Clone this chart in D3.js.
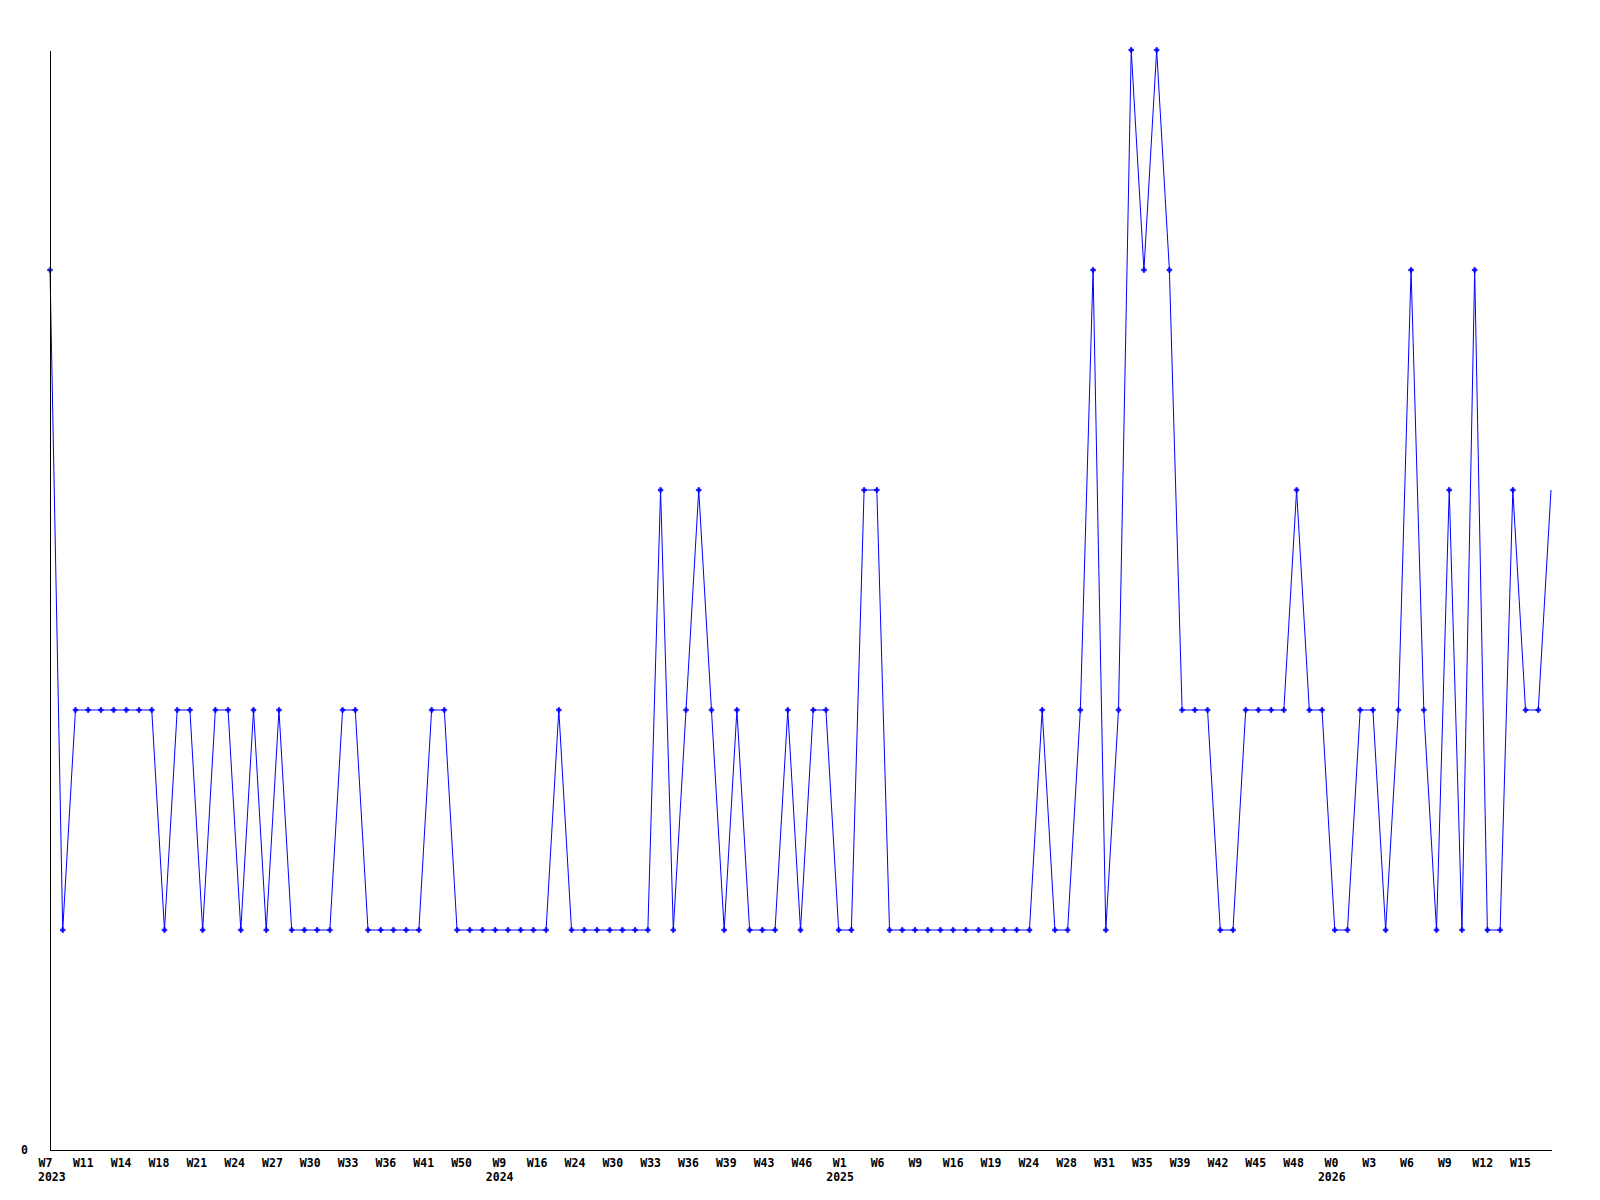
<!DOCTYPE html>
<html>
<head>
<meta charset="utf-8">
<script src="https://cdn.jsdelivr.net/npm/d3@7"></script>
<style>
  html, body { margin: 0; padding: 0; background: #fff; }
  svg { display: block; }
  text { font-family: "DejaVu Sans Mono", "Liberation Mono", monospace; font-weight: bold; font-size: 11.5px; fill: #000; }
</style>
</head>
<body>
<svg id="chart" width="1600" height="1200"></svg>
<script>
// ---- data ----
const values = [
  4, 1, 2, 2, 2, 2, 2, 2, 2, 1,
  2, 2, 1, 2, 2, 1, 2, 1, 2, 1,
  1, 1, 1, 2, 2, 1, 1, 1, 1, 1,
  2, 2, 1, 1, 1, 1, 1, 1, 1, 1,
  2, 1, 1, 1, 1, 1, 1, 1, 3, 1,
  2, 3, 2, 1, 2, 1, 1, 1, 2, 1,
  2, 2, 1, 1, 3, 3, 1, 1, 1, 1,
  1, 1, 1, 1, 1, 1, 1, 1, 2, 1,
  1, 2, 4, 1, 2, 5, 4, 5, 4, 2,
  2, 2, 1, 1, 2, 2, 2, 2, 3, 2,
  2, 1, 1, 2, 2, 1, 2, 4, 2, 1,
  3, 1, 4, 1, 1, 3, 2, 2, 3
];
const tickLabels = [
  "W7","W11","W14","W18","W21","W24","W27","W30","W33","W36","W41","W50",
  "W9","W16","W24","W30","W33","W36","W39","W43","W46",
  "W1","W6","W9","W16","W19","W24","W28","W31","W35","W39","W42","W45","W48",
  "W0","W3","W6","W9","W12","W15"
];
const yearLabels = ["2023","2024","2025","2026"];
const yearTickIndex = [0, 12, 21, 34];
const yTickValues = [0];

// ---- layout ----
const svg = d3.select("#chart");
const mLeft = 50, mRight = 1551, mTop = 50, mBottom = 1150;

const x = d3.scaleLinear().domain([0, values.length - 1]).range([mLeft, mRight]);
const y = d3.scaleLinear().domain([0, 5]).range([mBottom, mTop]);
const xLab = d3.scalePoint().domain(d3.range(tickLabels.length)).range([45, 1520]);

// line
const line = d3.line().x((d, i) => x(i)).y(d => y(d));
svg.append("path")
  .datum(values)
  .attr("d", line)
  .attr("fill", "none")
  .attr("stroke", "#0000ff")
  .attr("stroke-width", 1);

// markers (last point has none)
const sym = d3.symbol().type(d3.symbolCross).size(13);
svg.append("g").selectAll("path")
  .data(values.slice(0, values.length - 1))
  .join("path")
  .attr("transform", (d, i) => `translate(${x(i)},${y(d)})`)
  .attr("d", sym)
  .attr("fill", "#0000ff")
  .attr("stroke", "#0000ff")
  .attr("stroke-width", 0.6);

// axes lines
const yAxis = d3.axisLeft(y).tickValues(yTickValues).tickSize(0).tickPadding(22).tickFormat(d3.format("d"));
const gy = svg.append("g").attr("transform", `translate(${mLeft},0)`).call(yAxis);
gy.select(".domain").attr("stroke", "#000").attr("stroke-width", 1).attr("shape-rendering", "crispEdges");
gy.selectAll("text").attr("font-family", null).attr("font-size", null).attr("dy", "0.32em");

const xAxisLine = d3.axisBottom(x).tickValues([]).tickSize(0).tickSizeOuter(0);
const gx = svg.append("g").attr("transform", `translate(0,${mBottom})`).call(xAxisLine);
gx.select(".domain").attr("stroke", "#000").attr("stroke-width", 1).attr("shape-rendering", "crispEdges");

// x tick labels
const xLabAxis = d3.axisBottom(xLab).tickSize(0).tickPadding(9).tickFormat(i => tickLabels[i]);
const gl = svg.append("g").attr("transform", `translate(0,${mBottom})`).call(xLabAxis);
gl.select(".domain").remove();
gl.selectAll("text").attr("font-family", null).attr("font-size", null);

// year labels
svg.append("g").selectAll("text")
  .data(yearLabels)
  .join("text")
  .attr("x", (d, k) => Math.max(38, xLab(yearTickIndex[k]) - 13))
  .attr("y", mBottom + 31)
  .attr("text-anchor", "start")
  .text(d => d);
</script>
</body>
</html>
